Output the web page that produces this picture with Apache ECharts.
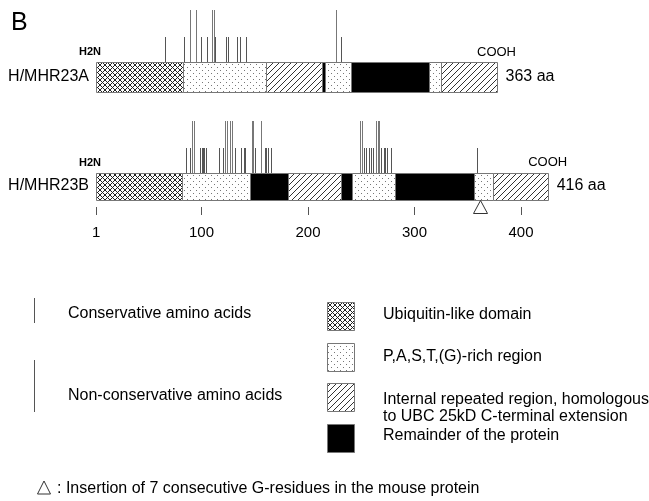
<!DOCTYPE html>
<html><head><meta charset="utf-8">
<script src="https://cdn.jsdelivr.net/npm/echarts@6/dist/echarts.min.js"></script>
<style>html,body{margin:0;padding:0;background:#fff}#c{width:649px;height:501px}</style>
</head><body><div id="c"></div>
<script>
// ---------- data (amino-acid positions) ----------
const proteins = ['H/MHR23A', 'H/MHR23B'];
const lengthLabels = ['363 aa', '416 aa'];
const boundsA = [1, 83, 161, 213, 216, 240, 314, 325, 377];
const regionsA = [0, 1, 2, 3, 1, 3, 1, 2];      // 0 ubiquitin,1 PAST,2 repeat,3 remainder
const boundsB = [1, 82, 146, 181, 231, 241, 282, 356, 374, 425];
const regionsB = [0, 1, 3, 2, 3, 1, 3, 1, 2];
const consA = [66, 84, 99.5, 105, 113, 123, 124.5, 133, 136, 141.5, 231];
const nonConsA = [89, 95, 109.5, 111.5, 226];
const consB = [85, 89, 99, 100, 101, 102.5, 104.5, 116.5, 120, 131, 137.5, 140, 141.3, 150.5,
  159.5, 161, 162.5, 165.5, 252.5, 254.5, 257, 259, 261, 269, 271, 272.5, 274.5, 277.5, 359];
const nonConsB = [91, 93, 122.5, 124, 126.5, 128.5, 147, 148.5, 155.5, 249, 250.5, 264, 265.5, 267];
const insertionB = [362];
const tickValues = [1, 100, 200, 300, 400];
const regionLabels = ['Ubiquitin-like domain', 'P,A,S,T,(G)-rich region',
  'Internal repeated region, homologous\nto UBC 25kD C-terminal extension', 'Remainder of the protein'];
const spikeLabels = ['Conservative amino acids', 'Non-conservative amino acids'];
const insertionNote = ': Insertion of 7 consecutive G-residues in the mouse protein';

// ---------- styling ----------
const FONT = "'Liberation Sans', Arial, Helvetica, sans-serif";
function tile(size, pts, color) {
  const c = document.createElement('canvas'); c.width = size; c.height = size;
  const g = c.getContext('2d'); g.fillStyle = '#fff'; g.fillRect(0, 0, size, size);
  g.fillStyle = color; pts.forEach(p => g.fillRect(p[0], p[1], 1, 1));
  return { image: c, repeat: 'repeat' };
}
const cross = []; for (let i = 0; i < 5; i++) { cross.push([i, i]); cross.push([i, 4 - i]); }
const hatch = []; for (let i = 0; i < 6; i++) hatch.push([i, 5 - i]);
const fills = [
  tile(5, cross, '#222'),
  tile(6, [[1, 1], [4, 4]], '#777'),
  tile(6, hatch, '#333'),
  '#000'
];
const rowH = [30, 27];
const spikeLen = [25, 52];

// ---------- build series data ----------
const segData = [];
[[boundsA, regionsA], [boundsB, regionsB]].forEach(([b, r], row) => {
  for (let i = 0; i < r.length; i++) segData.push([b[i], b[i + 1], row, r[i]]);
});
const spikeData = [];
consA.forEach(p => spikeData.push([p, 0, 0]));
nonConsA.forEach(p => spikeData.push([p, 0, 1]));
consB.forEach(p => spikeData.push([p, 1, 0]));
nonConsB.forEach(p => spikeData.push([p, 1, 1]));
const endData = [[boundsA[0], boundsA[boundsA.length - 1], 0], [boundsB[0], boundsB[boundsB.length - 1], 1]];
const insData = insertionB.map(p => [p, 1]);

const chart = echarts.init(document.getElementById('c'), null, { renderer: 'canvas' });
const pxPerAA = 1.065;
const gridW = 450 * pxPerAA;

const legendGraphics = [];
// spike legend
legendGraphics.push({ type: 'line', shape: { x1: 34.5, y1: 298, x2: 34.5, y2: 298 + spikeLen[0] }, style: { stroke: '#555', lineWidth: 1 } });
legendGraphics.push({ type: 'line', shape: { x1: 34.5, y1: 360, x2: 34.5, y2: 360 + spikeLen[1] }, style: { stroke: '#555', lineWidth: 1 } });
legendGraphics.push({ type: 'text', x: 68, y: 314, style: { text: spikeLabels[0], font: '16px ' + FONT, fill: '#000', verticalAlign: 'middle' } });
legendGraphics.push({ type: 'text', x: 68, y: 396, style: { text: spikeLabels[1], font: '16px ' + FONT, fill: '#000', verticalAlign: 'middle' } });
// region legend
const boxY = [302, 343, 383, 424];
const textY = [315, 357, 408, 436];
regionLabels.forEach((t, i) => {
  legendGraphics.push({ type: 'rect', shape: { x: 327.5, y: boxY[i] + 0.5, width: 27, height: 28 }, style: { fill: fills[i], stroke: '#777', lineWidth: 1 } });
  legendGraphics.push({ type: 'text', x: 383, y: textY[i], style: { text: t, font: '16px ' + FONT, fill: '#000', verticalAlign: 'middle', lineHeight: 17 } });
});
// insertion legend
legendGraphics.push({ type: 'polygon', shape: { points: [[44, 481], [37.5, 494], [50.5, 494]] }, style: { fill: '#fff', stroke: '#333', lineWidth: 1 } });
legendGraphics.push({ type: 'text', x: 57, y: 489, style: { text: insertionNote, font: '16px ' + FONT, fill: '#000', verticalAlign: 'middle' } });
// panel letter
legendGraphics.push({ type: 'text', x: 11, y: 23, style: { text: 'B', font: '25px ' + FONT, fill: '#000', verticalAlign: 'middle' } });

chart.setOption({
  animation: false,
  backgroundColor: '#fff',
  grid: [
    { left: 95, width: gridW, top: 22.5, height: 218 },
    { left: 95, width: gridW, top: 206, height: 1 }
  ],
  xAxis: [
    { gridIndex: 0, type: 'value', min: 0, max: 450, show: false },
    { gridIndex: 1, type: 'value', min: 0, max: 450, position: 'bottom',
      axisLine: { show: false }, splitLine: { show: false },
      axisTick: { show: true, length: 8, customValues: tickValues, lineStyle: { color: '#555', width: 1 } },
      axisLabel: { customValues: tickValues, fontSize: 15, fontFamily: FONT, color: '#000', margin: 18 } }
  ],
  yAxis: [
    { gridIndex: 0, type: 'category', data: proteins, inverse: true,
      axisLine: { show: false }, axisTick: { show: false }, splitLine: { show: false },
      axisLabel: { fontSize: 16, fontFamily: FONT, color: '#000', margin: 6 } },
    { gridIndex: 1, type: 'value', show: false }
  ],
  graphic: legendGraphics,
  series: [
    { type: 'custom', xAxisIndex: 0, yAxisIndex: 0, data: segData, encode: { x: [0, 1], y: 2 },
      renderItem: (params, api) => {
        const row = api.value(2);
        const s = api.coord([api.value(0), row]);
        const e = api.coord([api.value(1), row]);
        const h = rowH[row];
        const x0 = Math.round(s[0]) + 0.5, x1 = Math.round(e[0]) + 0.5;
        return { type: 'rect', shape: { x: x0, y: Math.round(s[1] - h / 2) + 0.5, width: x1 - x0, height: h },
          style: { fill: fills[api.value(3)], stroke: '#777', lineWidth: 1 } };
      } },
    { type: 'custom', xAxisIndex: 0, yAxisIndex: 0, data: spikeData, encode: { x: 0, y: 1 },
      renderItem: (params, api) => {
        const row = api.value(1);
        const p = api.coord([api.value(0), row]);
        const top = Math.round(p[1] - rowH[row] / 2);
        const x = Math.round(p[0]) + 0.5;
        return { type: 'line', shape: { x1: x, y1: top, x2: x, y2: top - spikeLen[api.value(2)] },
          style: { stroke: api.value(2) ? '#777' : '#555', lineWidth: 1 } };
      } },
    { type: 'custom', xAxisIndex: 0, yAxisIndex: 0, data: endData, encode: { x: [0, 1], y: 2 },
      renderItem: (params, api) => {
        const row = api.value(2);
        const s = api.coord([api.value(0), row]);
        const e = api.coord([api.value(1), row]);
        const top = s[1] - rowH[row] / 2;
        return { type: 'group', children: [
          { type: 'text', x: s[0] - 6, y: top - 10, style: { text: 'H2N', font: 'bold 11px ' + FONT, fill: '#000', align: 'center', verticalAlign: 'middle' } },
          { type: 'text', x: e[0], y: top - 10, style: { text: 'COOH', font: '13px ' + FONT, fill: '#000', align: 'center', verticalAlign: 'middle' } },
          { type: 'text', x: e[0] + 9, y: s[1], style: { text: lengthLabels[row], font: '16px ' + FONT, fill: '#000', verticalAlign: 'middle' } }
        ] };
      } },
    { type: 'custom', xAxisIndex: 0, yAxisIndex: 0, data: insData, encode: { x: 0, y: 1 },
      renderItem: (params, api) => {
        const row = api.value(1);
        const p = api.coord([api.value(0), row]);
        const b = p[1] + rowH[row] / 2 + 1;
        return { type: 'polygon', shape: { points: [[p[0], b], [p[0] - 7, b + 13], [p[0] + 7, b + 13]] },
          style: { fill: '#fff', stroke: '#333', lineWidth: 1 } };
      } }
  ]
});
</script></body></html>
